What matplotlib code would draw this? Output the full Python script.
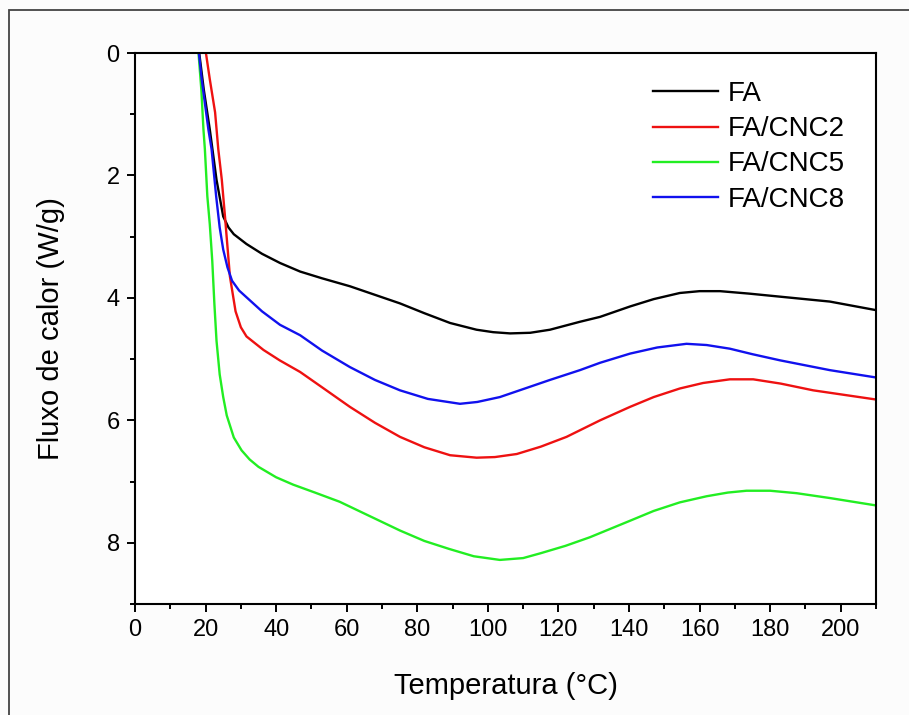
import matplotlib
matplotlib.use("Agg")
import matplotlib.pyplot as plt
from matplotlib.ticker import MultipleLocator
from matplotlib.patches import Rectangle

plt.rcParams['font.family'] = ['Liberation Sans', 'DejaVu Sans']

labels = ["FA", "FA/CNC2", "FA/CNC5", "FA/CNC8"]
colors = ["#000000", "#ee1111", "#22ee22", "#1111ee"]

fa_x = [18.2, 19.5, 21.2, 23.1, 25.0, 26.5, 28.0, 31.6, 36.0, 41.1, 46.8, 53.0, 60.9, 68.0, 75.1,
        82.0, 89.3, 96.8, 101.5, 106.3, 112.0, 117.6, 126.1, 131.8, 140.3, 147.0, 154.4, 160.0,
        165.8, 174.0, 182.8, 196.9, 210]
fa_y = [0.0, 0.6, 1.25, 2.07, 2.67, 2.85, 2.96, 3.12, 3.28, 3.43, 3.57, 3.68, 3.81, 3.95, 4.09,
        4.25, 4.41, 4.52, 4.56, 4.58, 4.57, 4.52, 4.39, 4.31, 4.14, 4.02, 3.92, 3.89,
        3.89, 3.93, 3.98, 4.06, 4.20]

cnc2_x = [20.1, 21.2, 22.7, 23.6, 24.6, 25.5, 26.9, 28.5, 30.0, 31.6, 36.4, 41.0, 46.8, 53.0, 60.9,
          68.0, 75.1, 82.0, 89.3, 96.8, 102.0, 108.2, 115.0, 122.3, 131.8, 140.3, 147.0, 154.4,
          161.0, 168.6, 175.2, 183.0, 192.2, 210]
cnc2_y = [0.0, 0.43, 0.97, 1.57, 2.07, 2.67, 3.65, 4.22, 4.48, 4.63, 4.85, 5.02, 5.21, 5.46, 5.78,
          6.04, 6.27, 6.44, 6.57, 6.61, 6.60, 6.55, 6.43, 6.27, 6.00, 5.78, 5.62, 5.48,
          5.39, 5.33, 5.33, 5.40, 5.51, 5.66]

cnc5_x = [18.0, 18.8, 19.4, 19.8, 20.5, 21.2, 21.9, 22.5, 23.1, 24.0, 25.0, 26.0, 28.0, 30.2, 32.5,
          35.0, 40.0, 44.8, 51.0, 58.0, 66.0, 75.1, 82.0, 89.0, 96.0, 103.4, 110.0, 115.0, 122.0,
          128.9, 140.3, 147.0, 154.4, 162.0, 168.0, 173.3, 180.0, 187.5, 197.0, 210]
cnc5_y = [0.0, 0.6, 1.25, 1.57, 2.34, 2.8, 3.40, 4.1, 4.7, 5.25, 5.62, 5.92, 6.28, 6.49, 6.64,
          6.76, 6.93, 7.05, 7.18, 7.33, 7.55, 7.80, 7.97, 8.10, 8.22, 8.28, 8.25, 8.17, 8.05,
          7.91, 7.64, 7.48, 7.34, 7.24, 7.18, 7.15, 7.15, 7.19, 7.27, 7.39]

cnc8_x = [18.1, 18.9, 20.8, 21.7, 23.0, 24.0, 25.0, 26.2, 27.5, 29.5, 31.6, 36.0, 41.1, 46.8, 53.0,
          60.9, 68.0, 75.1, 83.0, 92.1, 97.0, 103.4, 110.0, 117.6, 126.1, 131.8, 140.3, 148.0,
          156.3, 162.0, 168.6, 175.0, 182.8, 196.9, 210]
cnc8_y = [0.0, 0.43, 1.25, 1.57, 2.34, 2.85, 3.21, 3.50, 3.72, 3.88, 3.99, 4.22, 4.44, 4.61, 4.86,
          5.13, 5.34, 5.51, 5.65, 5.73, 5.70, 5.62, 5.49, 5.34, 5.18, 5.06, 4.91, 4.81,
          4.75, 4.77, 4.83, 4.92, 5.02, 5.18, 5.30]

xs = [fa_x, cnc2_x, cnc5_x, cnc8_x]
ys = [fa_y, cnc2_y, cnc5_y, cnc8_y]

W, H = 909, 715
fig = plt.figure(figsize=(W / 100, H / 100), dpi=100, facecolor="#fcfcfc")
fig.patches.append(Rectangle((9 / W, -0.05), 1.2, 1 - 10 / H + 0.05, transform=fig.transFigure,
                             fill=False, edgecolor="#444444", linewidth=1.3))
ax = fig.add_axes([135 / W, 1 - 604 / H, (876 - 135) / W, (604 - 53) / H])
ax.set_facecolor("white")

for x, y, c, lab in zip(xs, ys, colors, labels):
    ax.plot(x, y, color=c, lw=1.7, label=lab, solid_joinstyle="round")

ax.set_xlim(0, 210)
ax.set_ylim(9, 0)
ax.xaxis.set_major_locator(MultipleLocator(20))
ax.xaxis.set_minor_locator(MultipleLocator(10))
ax.yaxis.set_major_locator(MultipleLocator(2))
ax.yaxis.set_minor_locator(MultipleLocator(1))
ax.tick_params(which="major", direction="out", length=6, width=1.4, labelsize=17, pad=5)
ax.tick_params(which="minor", direction="out", length=3.5, width=1.4)
for s in ax.spines.values():
    s.set_linewidth(1.5)

ax.set_xlabel("Temperatura (°C)", fontsize=21, labelpad=22)
ax.set_ylabel("Fluxo de calor (W/g)", fontsize=21, labelpad=30)

ax.legend(loc="upper left", bbox_to_anchor=(0.699, 0.949), frameon=False, fontsize=20,
          handlelength=2.35, handletextpad=0.35, labelspacing=0.33, borderpad=0, borderaxespad=0)

fig.savefig("out.png", dpi=100, facecolor=fig.get_facecolor())
